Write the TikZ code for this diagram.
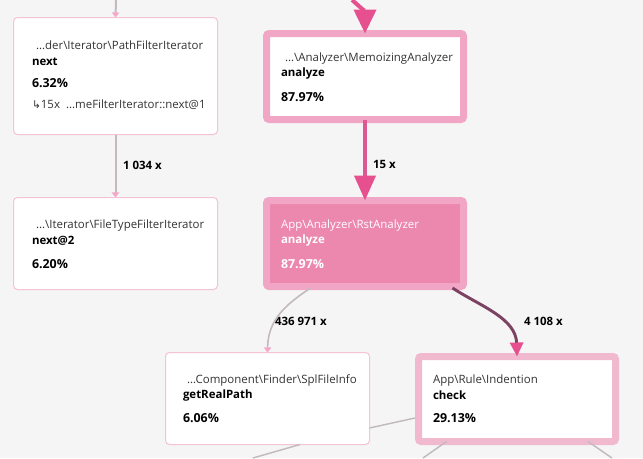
\documentclass[tikz,border=0pt]{standalone}
\usepackage{fontspec}
\setmainfont{Open Sans}
\newfontfamily\symfont{DejaVu Sans}
\usetikzlibrary{arrows.meta,calc}
\definecolor{bg}{HTML}{F5F5F5}
\definecolor{thinpink}{HTML}{F4C4D6}
\definecolor{thickpink}{HTML}{F0A6C4}
\definecolor{thickpinkb}{HTML}{F1B9CE}
\definecolor{hotfill}{HTML}{EC87AD}
\definecolor{arrowpink}{HTML}{E6508E}
\definecolor{tippink}{HTML}{F2A8C6}
\definecolor{edgepink}{HTML}{DC5A92}
\definecolor{edgeplum}{HTML}{7B4262}
\definecolor{edgegrey}{HTML}{C2BABE}
\definecolor{txtgrey}{HTML}{333333}
\begin{document}
\begin{tikzpicture}[x=0.75pt,y=-0.75pt,
  every node/.style={inner sep=0pt, outer sep=0pt},
  thinbox/.style={draw=thinpink, line width=0.75pt, fill=white, rounded corners=3pt, minimum width=153pt},
  thickbox/.style={draw=thickpink, line width=5.25pt, fill=white, rounded corners=2pt, minimum width=147.75pt, minimum height=64.5pt},
  cls/.style={anchor=west, font=\fontsize{8.6}{10}\selectfont, text=txtgrey},
  meth/.style={anchor=west, font=\bfseries\fontsize{8.6}{10}\selectfont, text=black},
  pct/.style={anchor=west, font=\bfseries\fontsize{9.3}{10}\selectfont, text=black},
  elabel/.style={anchor=west, font=\bfseries\fontsize{8.6}{10}\selectfont, text=black},
  greyedge/.style={draw=edgegrey, line width=1.5pt},
  smalltip/.style={-{Triangle[width=5.5pt,length=3.8pt,color=tippink]}},
  bigtip/.style={-{Triangle[width=16.5pt,length=18pt,color=arrowpink]}},
]
\fill[bg] (0,0) rectangle (643,458);
\useasboundingbox (0,0) rectangle (643,458);

% boxes
\node[thinbox, minimum height=87.75pt] (n1) at (115.5,76) {};
\node[thinbox, minimum height=69pt] (n2) at (115.5,243.5) {};
\node[thickbox] (n3) at (365,76.5) {};
\node[thickbox, draw=thickpink, fill=hotfill] (n4) at (365,243.5) {};
\node[thinbox, minimum height=69pt] (n5) at (267.5,398.5) {};
\node[thickbox, draw=thickpinkb, minimum height=63.75pt] (n6) at (517,399) {};

% texts n1
\node[cls] (t1a) at (32,45.5) {\hspace{3pt}...der\textbackslash Iterator\textbackslash PathFilterIterator};
\node[meth] (t1b) at (32,61.5) {next};
\node[pct] (t1c) at (32,83.5) {6.32\%};
\node[cls] (t1d) at (32,104.5) {{\symfont\fontsize{8}{10}\selectfont ↳}15x\ \ ...meFilterIterator::next@1};
% texts n2
\node[cls] (t2a) at (32,225.5) {\hspace{3pt}...\textbackslash Iterator\textbackslash FileTypeFilterIterator};
\node[meth] (t2b) at (32,240.5) {next@2};
\node[pct] (t2c) at (32,264.5) {6.20\%};
% texts n3
\node[cls] (t3a) at (281,58.5) {\hspace{3pt}...\textbackslash Analyzer\textbackslash MemoizingAnalyzer};
\node[meth] (t3b) at (281,73.5) {analyze};
\node[pct] (t3c) at (281,97.5) {87.97\%};
% texts n4
\node[cls, text=white] (t4a) at (281,225.5) {App\textbackslash Analyzer\textbackslash RstAnalyzer};
\node[meth, text=white] (t4b) at (281,240.5) {analyze};
\node[pct, text=white] (t4c) at (281,264.5) {87.97\%};
% texts n5
\node[cls] (t5a) at (183,380.5) {\hspace{3pt}...Component\textbackslash Finder\textbackslash SplFileInfo};
\node[meth] (t5b) at (183,395.5) {getRealPath};
\node[pct] (t5c) at (183,418.5) {6.06\%};
% texts n6
\node[cls] (t6a) at (433,380.5) {App\textbackslash Rule\textbackslash Indention};
\node[meth] (t6b) at (433,395.5) {check};
\node[pct] (t6c) at (433,418.5) {29.13\%};

% free ends
\coordinate (top1) at (116,0);
\coordinate (top3) at (352,0);
\coordinate (b1) at (253,458);
\coordinate (b2) at (423,458);
\coordinate (b3) at (612,458);

% edges
\draw[greyedge, smalltip] (top1) -- (n1.north);
\draw[greyedge, smalltip] (n1.south) -- (n2.north);
\node[elabel] (l1) at (123,165) {1 034 x};

\draw[draw=arrowpink, line width=3pt, bigtip] (top3) .. controls (358,5) and (365,12) .. (n3.north);
\draw[draw=edgepink, line width=3pt, -{Triangle[width=15.75pt,length=18.75pt,color=arrowpink]}] (n3.south) -- (n4.north);
\node[elabel] (l2) at (373,164) {15 x};

\draw[draw=edgegrey, line width=1.2pt, smalltip] ($(n4.south west)+(44,1.5)$) .. controls (285,305) and (268,320) .. (n5.north);
\node[elabel] (l3) at (275,321) {436 971 x};

\draw[draw=edgeplum, line width=2.2pt, -{Triangle[width=9.75pt,length=10.5pt,color=arrowpink]}] ($(n4.south east)+(-11,1.5)$) .. controls (480,306) and (516,318) .. (n6.north);
\node[elabel] (l4) at (524,321) {4 108 x};

\draw[draw=edgegrey, line width=1.1pt] ($(n5.east)+(0,29.5)$) -- ($(n6.west)+(-3.5,19)$);
\draw[draw=edgegrey, line width=1.1pt] ($(n5.south)+(32.5,0)$) -- (b1);
\draw[draw=edgegrey, line width=1.1pt] ($(n6.south west)+(28,0)$) -- (b2);
\draw[draw=edgegrey, line width=1.1pt] ($(n6.south east)+(-27.5,0)$) -- (b3);
\end{tikzpicture}
\end{document}
